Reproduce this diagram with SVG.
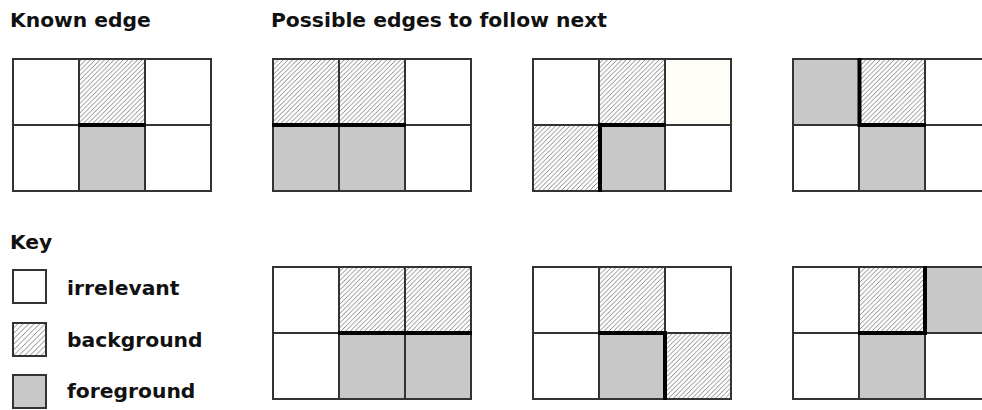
<svg xmlns="http://www.w3.org/2000/svg" width="982" height="410" viewBox="0 0 982 410">
<defs>
<pattern id="hatch" patternUnits="userSpaceOnUse" width="4.7" height="4.7">
<rect width="4.7" height="4.7" fill="#ffffff"/>
<path d="M-1,1 L1,-1 M0,4.7 L4.7,0 M3.7,5.7 L5.7,3.7" stroke="#666" stroke-width="0.8"/>
</pattern>
<pattern id="hatchKey" patternUnits="userSpaceOnUse" width="5.5" height="5.5" x="13" y="323">
<rect width="5.5" height="5.5" fill="#ffffff"/>
<path d="M-1,1 L1,-1 M0,5.5 L5.5,0 M4.5,6.5 L6.5,4.5" stroke="#666" stroke-width="0.8"/>
</pattern>
</defs>
<style>
text{font-family:"DejaVu Sans","Liberation Sans",sans-serif;font-weight:bold;font-size:20.3px;fill:#111}
.c{stroke:#333;stroke-width:2}
.w{fill:#fff}
.h{fill:url(#hatch)}
.g{fill:#c8c8c8}
.y{fill:#fefef6}
.e{stroke:#000;stroke-width:4;fill:none;stroke-linecap:square}
</style>
<text x="10" y="27">Known edge</text>
<text x="271" y="27">Possible edges to follow next</text>
<text x="10" y="249">Key</text>

<g id="known">
<rect class="c w" x="13" y="59" width="66" height="66"/>
<rect class="c h" x="79" y="59" width="66" height="66"/>
<rect class="c w" x="145" y="59" width="66" height="66"/>
<rect class="c w" x="13" y="125" width="66" height="66"/>
<rect class="c g" x="79" y="125" width="66" height="66"/>
<rect class="c w" x="145" y="125" width="66" height="66"/>
<path class="e" d="M80,125 H144"/>
</g>

<g id="option1">
<rect class="c h" x="273" y="59" width="66" height="66"/>
<rect class="c h" x="339" y="59" width="66" height="66"/>
<rect class="c w" x="405" y="59" width="66" height="66"/>
<rect class="c g" x="273" y="125" width="66" height="66"/>
<rect class="c g" x="339" y="125" width="66" height="66"/>
<rect class="c w" x="405" y="125" width="66" height="66"/>
<path class="e" d="M274,125 H404"/>
</g>

<g id="option2">
<rect class="c w" x="533" y="59" width="66" height="66"/>
<rect class="c h" x="599" y="59" width="66" height="66"/>
<rect class="c y" x="665" y="59" width="66" height="66"/>
<rect class="c h" x="533" y="125" width="66" height="66"/>
<rect class="c g" x="599" y="125" width="66" height="66"/>
<rect class="c w" x="665" y="125" width="66" height="66"/>
<path class="e" d="M664,125 H600 V190"/>
</g>

<g id="option3">
<rect class="c g" x="793" y="59" width="66" height="66"/>
<rect class="c h" x="859" y="59" width="66" height="66"/>
<rect class="c w" x="925" y="59" width="66" height="66"/>
<rect class="c w" x="793" y="125" width="66" height="66"/>
<rect class="c g" x="859" y="125" width="66" height="66"/>
<rect class="c w" x="925" y="125" width="66" height="66"/>
<path class="e" d="M859.5,60 V125 H924"/>
</g>

<g id="option4">
<rect class="c w" x="273" y="267" width="66" height="66"/>
<rect class="c h" x="339" y="267" width="66" height="66"/>
<rect class="c h" x="405" y="267" width="66" height="66"/>
<rect class="c w" x="273" y="333" width="66" height="66"/>
<rect class="c g" x="339" y="333" width="66" height="66"/>
<rect class="c g" x="405" y="333" width="66" height="66"/>
<path class="e" d="M340,333 H470"/>
</g>

<g id="option5">
<rect class="c w" x="533" y="267" width="66" height="66"/>
<rect class="c h" x="599" y="267" width="66" height="66"/>
<rect class="c w" x="665" y="267" width="66" height="66"/>
<rect class="c w" x="533" y="333" width="66" height="66"/>
<rect class="c g" x="599" y="333" width="66" height="66"/>
<rect class="c h" x="665" y="333" width="66" height="66"/>
<path class="e" d="M600,333 H665 V398"/>
</g>

<g id="option6">
<rect class="c w" x="793" y="267" width="66" height="66"/>
<rect class="c h" x="859" y="267" width="66" height="66"/>
<rect class="c g" x="925" y="267" width="66" height="66"/>
<rect class="c w" x="793" y="333" width="66" height="66"/>
<rect class="c g" x="859" y="333" width="66" height="66"/>
<rect class="c w" x="925" y="333" width="66" height="66"/>
<path class="e" d="M860,333 H925 V268"/>
</g>

<g id="key">
<rect class="c w" x="13" y="270" width="33" height="33"/>
<text x="67" y="295">irrelevant</text>
<rect class="c" fill="url(#hatchKey)" x="13" y="323" width="33" height="33"/>
<text x="67" y="347">background</text>
<rect class="c g" x="13" y="375" width="33" height="33"/>
<text x="67" y="398">foreground</text>
</g>
</svg>
